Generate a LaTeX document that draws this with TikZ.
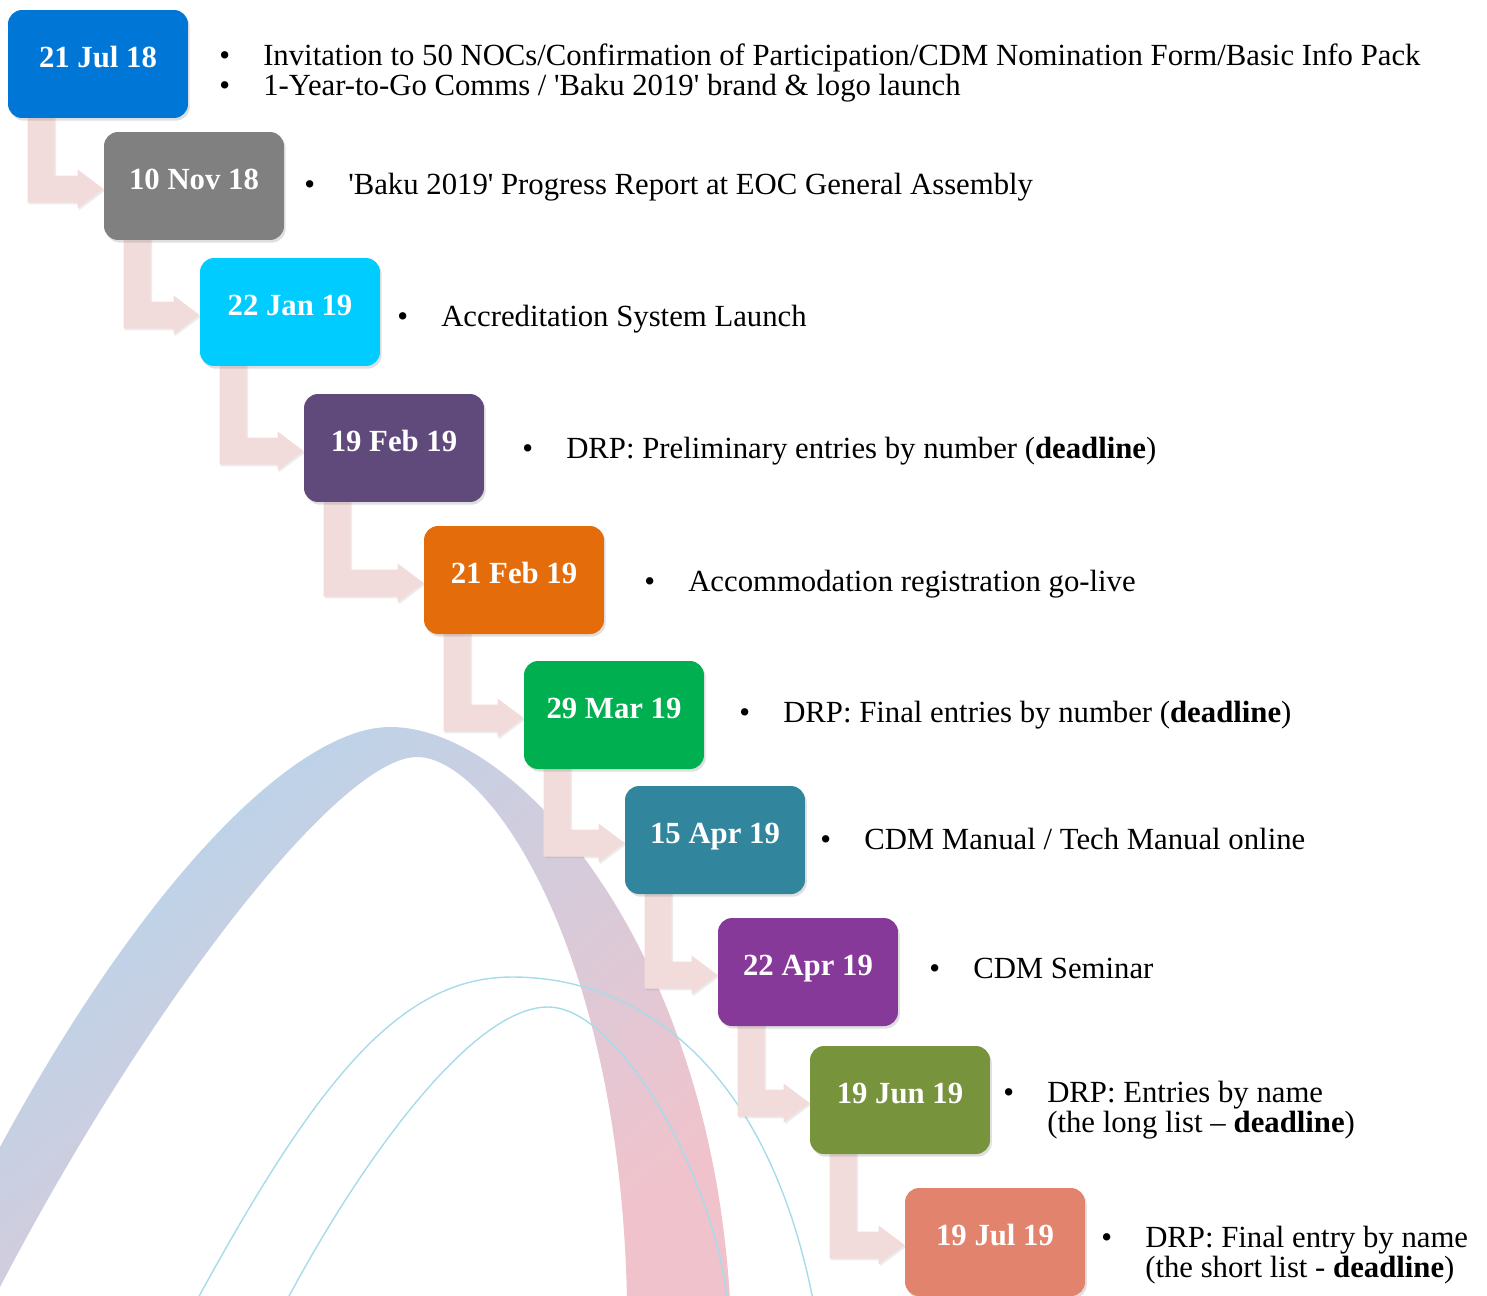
\documentclass[tikz,border=0pt]{standalone}
\usepackage{fontspec}
\setmainfont{Liberation Serif}
\usetikzlibrary{calc,shadows}

\definecolor{julblue}{HTML}{0076D6}
\definecolor{novgray}{HTML}{808080}
\definecolor{jancyan}{HTML}{00CCFF}
\definecolor{febpurple}{HTML}{604A7B}
\definecolor{feborange}{HTML}{E46C0A}
\definecolor{margreen}{HTML}{00B050}
\definecolor{aprteal}{HTML}{31859C}
\definecolor{aprpurple}{HTML}{87399A}
\definecolor{junolive}{HTML}{77933C}
\definecolor{julsalmon}{HTML}{E2846D}
\definecolor{arrowpink}{HTML}{F2DCDB}
\definecolor{arcblue}{HTML}{B6D5EC}
\definecolor{arcpink}{HTML}{F0C3CC}
\definecolor{swirlcyan}{HTML}{A6DCEA}

\pgfdeclarelayer{background}
\pgfsetlayers{background,main}

\newcommand{\bul}{\makebox[25pt][l]{\textbullet}}
\newcommand{\sq}{\textquotesingle}

\newcommand{\elbow}[2]{%
    \coordinate (e1) at ($(#1.south west)+(20,-4)$);
    \coordinate (e2) at ($(#1.south west)+(47,-4)$);
    \coordinate (tip) at ($(#2.west)+(0,3)$);
    \fill[elbow] (e1) -- (e2) |- ($(tip)+(-26,-13.5)$) -- ++(0,-6) -- (tip)
        -- ($(tip)+(-26,19.5)$) -- ++(0,-6) -| (e1) -- cycle;
}

\tikzset{
    datebox/.style={rectangle, rounded corners=0.28cm, minimum width=3.6cm,
        minimum height=2.16cm, text=white, text height=12pt, text depth=8.4pt,
        font=\fontsize{17.5}{20}\selectfont\bfseries,
        drop shadow={shadow xshift=1pt, shadow yshift=-1.5pt, opacity=0.25}},
    desc/.style={anchor=base west, inner sep=0pt, font=\fontsize{17.5}{17.6}\selectfont},
    elbow/.style={fill=arrowpink,
        drop shadow={shadow xshift=0.8pt, shadow yshift=-1pt, opacity=0.15}},
    swirl/.style={draw=swirlcyan, line width=0.8pt}
}

\begin{document}
\begin{tikzpicture}[x=0.02cm, y=-0.02cm]
    \useasboundingbox (0,0) rectangle (1487,1295);

    % date boxes
    \node[datebox, fill=julblue] (d1) at (98,64) {21 Jul 18};
    \node[datebox, fill=novgray] (d2) at (194,186) {10 Nov 18};
    \node[datebox, fill=jancyan] (d3) at (290,312) {22 Jan 19};
    \node[datebox, fill=febpurple] (d4) at (394,448) {19 Feb 19};
    \node[datebox, fill=feborange] (d5) at (514,580) {21 Feb 19};
    \node[datebox, fill=margreen] (d6) at (614,715) {29 Mar 19};
    \node[datebox, fill=aprteal] (d7) at (715,840) {15 Apr 19};
    \node[datebox, fill=aprpurple] (d8) at (808,972) {22 Apr 19};
    \node[datebox, fill=junolive] (d9) at (900,1100) {19 Jun 19};
    \node[datebox, fill=julsalmon] (d10) at (995,1242) {19 Jul 19};

    % descriptions
    \node[desc] (t1) at (219,65) {\begin{tabular}[t]{@{}l@{}l@{}}\bul & Invitation to 50 NOCs/Confirmation of Participation/CDM Nomination Form/Basic Info Pack\\
        \bul & 1-Year-to-Go Comms / \sq Baku 2019\sq{} brand \& logo launch\end{tabular}};
    \node[desc] (t2) at (304,194) {\bul\sq Baku 2019\sq{} Progress Report at EOC General Assembly};
    \node[desc] (t3) at (397,326) {\bul Accreditation System Launch};
    \node[desc] (t4) at (522,458) {\bul DRP: Preliminary entries by number (\textbf{deadline})};
    \node[desc] (t5) at (644,591) {\bul Accommodation registration go-live};
    \node[desc] (t6) at (739,722) {\bul DRP: Final entries by number (\textbf{deadline})};
    \node[desc] (t7) at (820,849) {\bul CDM Manual / Tech Manual online};
    \node[desc] (t8) at (929,978) {\bul CDM Seminar};
    \node[desc] (t9) at (1003,1102) {\bul\begin{tabular}[t]{@{}l@{}}DRP: Entries by name\\(the long list -- \textbf{deadline})\end{tabular}};
    \node[desc] (t10) at (1101,1247) {\bul\begin{tabular}[t]{@{}l@{}}DRP: Final entry by name\\(the short list - \textbf{deadline})\end{tabular}};

    \begin{pgfonlayer}{background}
        \begin{scope}
            \clip (0,0) rectangle (1487,1295);
            % arc band
            \shade[top color=arcblue, bottom color=arcpink, shading angle=40]
                (0,1147) .. controls (150,870) and (300,727) .. (390,727)
                .. controls (520,727) and (710,950) .. (730,1300)
                -- (627,1300) .. controls (620,950) and (490,757) .. (417,757)
                .. controls (340,757) and (150,1000) .. (0,1287) -- cycle;
            % thin curves
            \draw[swirl] (197,1300) .. controls (317,1080) and (400,977) .. (512,977)
                .. controls (650,977) and (770,1080) .. (813,1300);
            \draw[swirl] (287,1300) .. controls (357,1168) and (470,1007) .. (548,1007)
                .. controls (620,1007) and (715,1180) .. (727,1300);
        \end{scope}
        % connectors
        \foreach \a/\b in {d1/d2, d2/d3, d3/d4, d4/d5, d5/d6, d6/d7, d7/d8, d8/d9, d9/d10}
            \elbow{\a}{\b};
    \end{pgfonlayer}
\end{tikzpicture}
\end{document}
